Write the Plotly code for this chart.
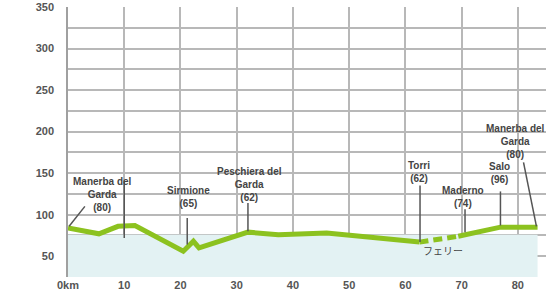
import plotly.graph_objects as go

# --- data ---
route_km = [0, 5.5, 8.9, 11.9, 20.5, 22.3, 23.3, 32, 37.4, 46, 62.5]
route_elev = [84, 77, 86, 87, 56, 68, 60, 79, 76, 78, 67]
ferry_km = [62.5, 69.4]
ferry_elev = [67, 74]
route2_km = [69.4, 76.9, 83.5]
route2_elev = [74, 85, 85]
lake_km = [0, 83.5]
lake_level = [76, 76]

x_ticks = [0, 10, 20, 30, 40, 50, 60, 70, 80]
x_tick_text = ["0km", "10", "20", "30", "40", "50", "60", "70", "80"]
y_ticks = [50, 75, 100, 125, 150, 175, 200, 225, 250, 275, 300, 325, 350]
y_tick_text = ["50", "", "100", "", "150", "", "200", "", "250", "", "300", "", "350"]

place_labels = ["Manerba del<br>Garda<br>(80)", "Sirmione<br>(65)", "Peschiera del<br>Garda<br>(62)",
                "Torri<br>(62)", "Maderno<br>(74)", "Salo<br>(96)", "Manerba del<br>Garda<br>(80)"]
ferry_label = "フェリー"

# label layout: (x, y) text centre and leader line (x0, y0, x1, y1)
label_pos = [(6.2, 124.5), (21.5, 121), (32.2, 136.5), (62.5, 151), (70.3, 121), (76.7, 149.7), (79.5, 188)]
leaders = [(3.0, 110, 0.2, 86), (21.2, 96, 21.2, 64), (32.0, 114, 32.0, 80), (62.6, 135, 62.6, 67),
           (70.6, 106.5, 70.6, 79), (76.9, 128, 76.9, 87), (81.0, 163, 83.3, 86), (10.0, 140, 10.0, 72)]

GREEN = "#8cc21f"
fig = go.Figure()
fig.add_trace(go.Scatter(x=lake_km, y=lake_level, mode="lines", line=dict(width=0),
                         fill="tozeroy", fillcolor="#e3f2f3", hoverinfo="skip"))
fig.add_trace(go.Scatter(x=route_km, y=route_elev, mode="lines",
                         line=dict(color=GREEN, width=5)))
fig.add_trace(go.Scatter(x=ferry_km, y=ferry_elev, mode="lines",
                         line=dict(color=GREEN, width=5, dash="9px,5px")))
fig.add_trace(go.Scatter(x=route2_km, y=route2_elev, mode="lines",
                         line=dict(color=GREEN, width=5)))

for (x0, y0, x1, y1) in leaders:
    fig.add_shape(type="line", x0=x0, y0=y0, x1=x1, y1=y1, xref="x", yref="y",
                  line=dict(color="#555555", width=1.5), layer="above")

for txt, (x, y) in zip(place_labels, label_pos):
    fig.add_annotation(x=x, y=y, text=txt, showarrow=False, xanchor="center", yanchor="middle",
                       font=dict(family="Liberation Sans", size=10, color="#444444", weight="bold"),
                       align="center")
fig.add_annotation(x=66.7, y=57, text=ferry_label, showarrow=False,
                   font=dict(family="Noto Sans CJK JP", size=10, color="#444444"))

fig.update_layout(
    width=546, height=300, margin=dict(l=68, r=0, t=7, b=23),
    plot_bgcolor="white", paper_bgcolor="white", showlegend=False,
    xaxis=dict(range=[0, 85], tickvals=x_ticks, ticktext=x_tick_text, showgrid=True,
               gridcolor="#b8b8b8", gridwidth=1.5, zeroline=False, showline=False, ticks="",
               tickfont=dict(family="Liberation Sans", size=11, color="#555555", weight="bold"),
               automargin=False, fixedrange=True),
    yaxis=dict(range=[25, 350], tickvals=y_ticks, ticktext=y_tick_text, showgrid=True,
               gridcolor="#b8b8b8", gridwidth=1.5, zeroline=False, showline=True,
               linecolor="#a0a0a0", linewidth=1.5, ticks="", ticklabelstandoff=10,
               tickfont=dict(family="Liberation Sans", size=11, color="#555555", weight="bold"),
               automargin=False, fixedrange=True),
)
fig.write_html("out.html", config={"displayModeBar": False},
               post_script="document.body.style.margin='0';document.body.style.overflow='hidden';")
